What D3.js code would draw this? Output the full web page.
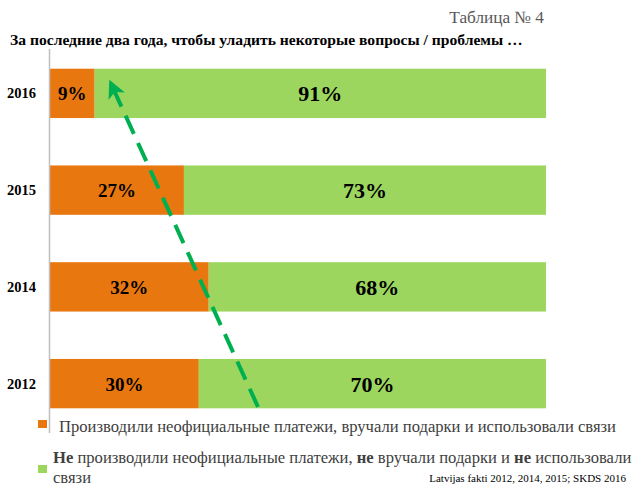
<!DOCTYPE html>
<html>
<head>
<meta charset="utf-8">
<script src="https://cdn.jsdelivr.net/npm/d3@7"></script>
<style>
  body { margin: 0; background: #fff; }
  text { font-family: 'Liberation Serif', serif; }
</style>
</head>
<body>
<div id="chart"></div>
<script>
const years = ['2016', '2015', '2014', '2012'];
const paid = [9, 27, 32, 30];
const notPaid = [91, 73, 68, 70];

const W = 633, H = 488;
const orange = '#E8770F';
const green = '#9DD65F';

const svg = d3.select('#chart').append('svg')
    .attr('width', W)
    .attr('height', H);

const x = d3.scaleLinear()
    .domain([0, 100])
    .range([50, 546]);

const y = d3.scaleBand()
    .domain(years)
    .range([45, 432])
    .paddingInner(0.49)
    .paddingOuter(0.245);

// titles
svg.append('text')
    .attr('x', 544)
    .attr('y', 23)
    .attr('text-anchor', 'end')
    .style('font-size', '17.3px')
    .style('fill', '#595959')
    .text('Таблица № 4');

svg.append('text')
    .attr('x', 10)
    .attr('y', 45)
    .style('font-size', '15.6px')
    .style('font-weight', 'bold')
    .style('fill', '#000')
    .text('За последние два года, чтобы уладить некоторые вопросы / проблемы …');

const rows = years.map((yr, i) => ({ year: yr, a: paid[i], b: notPaid[i] }));

svg.selectAll('rect.a')
    .data(rows)
    .enter()
    .append('rect')
    .attr('class', 'a')
    .attr('x', x(0))
    .attr('y', (d) => y(d.year))
    .attr('width', (d) => x(d.a) - x(0))
    .attr('height', y.bandwidth())
    .style('fill', orange);

svg.selectAll('rect.b')
    .data(rows)
    .enter()
    .append('rect')
    .attr('class', 'b')
    .attr('x', (d) => x(d.a))
    .attr('y', (d) => y(d.year))
    .attr('width', (d) => x(d.a + d.b) - x(d.a))
    .attr('height', y.bandwidth())
    .style('fill', green);

// axis line
svg.append('line')
    .attr('x1', 49.5).attr('x2', 49.5)
    .attr('y1', 49).attr('y2', 433)
    .style('stroke', '#bfbfbf')
    .style('stroke-width', 1.5);

// year labels
svg.selectAll('text.year')
    .data(rows)
    .enter()
    .append('text')
    .attr('class', 'year')
    .attr('x', 36)
    .attr('y', (d) => y(d.year) + y.bandwidth() / 2 + 5)
    .attr('text-anchor', 'end')
    .style('font-size', '14.5px')
    .style('font-weight', 'bold')
    .text((d) => d.year);

// value labels
svg.selectAll('text.va')
    .data(rows)
    .enter()
    .append('text')
    .attr('class', 'va')
    .attr('x', (d) => (x(0) + x(d.a)) / 2)
    .attr('y', (d) => y(d.year) + y.bandwidth() / 2 + 7)
    .attr('text-anchor', 'middle')
    .style('font-size', '19px')
    .style('font-weight', 'bold')
    .text((d) => d.a + '%');

svg.selectAll('text.vb')
    .data(rows)
    .enter()
    .append('text')
    .attr('class', 'vb')
    .attr('x', (d) => (x(d.a) + x(d.a + d.b)) / 2)
    .attr('y', (d) => y(d.year) + y.bandwidth() / 2 + 8)
    .attr('text-anchor', 'middle')
    .style('font-size', '22px')
    .style('font-weight', 'bold')
    .text((d) => d.b + '%');

// dashed trend arrow
svg.append('defs').append('marker')
    .attr('id', 'head')
    .attr('viewBox', '0 0 10 10')
    .attr('refX', 5).attr('refY', 5)
    .attr('markerWidth', 4.5).attr('markerHeight', 4.5)
    .attr('orient', 'auto')
    .append('path')
    .attr('d', 'M0,0 L10,5 L0,10 L2.5,5 Z')
    .style('fill', '#00B050');

svg.append('line')
    .attr('x1', 258).attr('y1', 407)
    .attr('x2', 113).attr('y2', 88)
    .style('stroke', '#00B050')
    .style('stroke-width', 4)
    .style('stroke-dasharray', '20,10')
    .attr('marker-end', 'url(#head)');

// legend
svg.append('rect')
    .attr('x', 38).attr('y', 420)
    .attr('width', 9).attr('height', 8)
    .style('fill', orange);

svg.append('text')
    .attr('x', 59)
    .attr('y', 432)
    .style('font-size', '16.6px')
    .style('fill', '#404040')
    .text('Производили неофициальные платежи, вручали подарки и использовали связи');

svg.append('rect')
    .attr('x', 38).attr('y', 465)
    .attr('width', 9).attr('height', 8)
    .style('fill', green);

const leg2 = svg.append('text')
    .attr('x', 53)
    .attr('y', 463)
    .style('font-size', '16.6px')
    .style('fill', '#404040');
[['Не', true], [' производили неофициальные платежи, ', false], ['не', true],
 [' вручали подарки и ', false], ['не', true], [' использовали', false]]
    .forEach(([t, b]) => {
        leg2.append('tspan').style('font-weight', b ? 'bold' : 'normal').text(t);
    });

svg.append('text')
    .attr('x', 53)
    .attr('y', 483)
    .style('font-size', '16.6px')
    .style('fill', '#404040')
    .text('связи');

svg.append('text')
    .attr('x', 626)
    .attr('y', 482)
    .attr('text-anchor', 'end')
    .style('font-size', '11px')
    .style('fill', '#000')
    .text('Latvijas fakti 2012, 2014, 2015; SKDS  2016');
</script>
</body>
</html>
